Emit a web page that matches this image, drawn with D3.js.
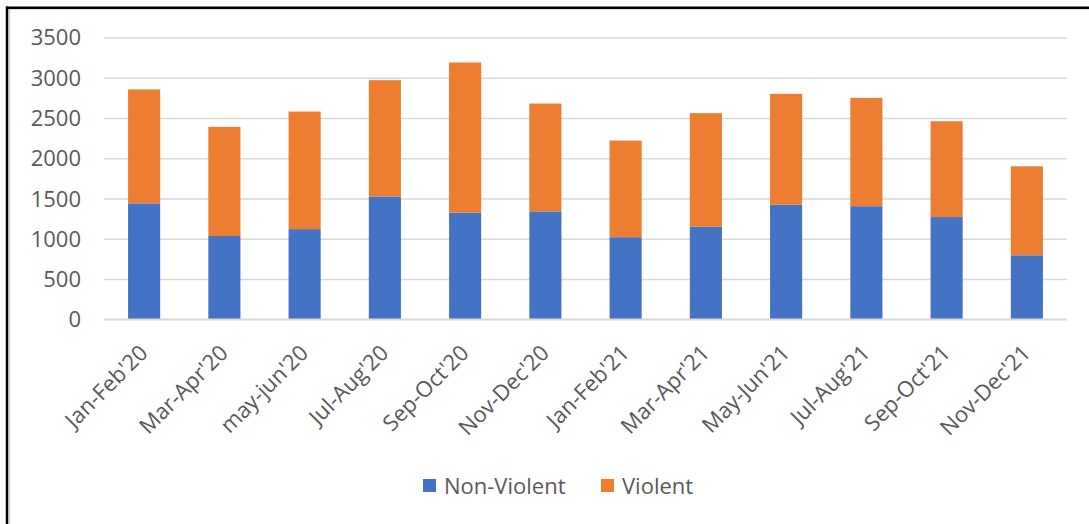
<!DOCTYPE html>
<html>
<head>
<meta charset="utf-8">
<script src="https://cdn.jsdelivr.net/npm/d3@7"></script>
<style>
  html, body { margin: 0; padding: 0; background: #ffffff; }
  svg { display: block; }
  text { font-family: "Open Sans", "Noto Sans", sans-serif; fill: #595959; }
</style>
</head>
<body>
<svg id="chart" width="1089" height="524"></svg>
<script>
// Two-month periods shown on the x axis
const periods = ["Jan-Feb'20", "Mar-Apr'20", "may-jun'20", "Jul-Aug'20", "Sep-Oct'20", "Nov-Dec'20",
                 "Jan-Feb'21", "Mar-Apr'21", "May-Jun'21", "Jul-Aug'21", "Sep-Oct'21", "Nov-Dec'21"];
// Incident counts per period
const nonViolent = [1440, 1035, 1120, 1525, 1325, 1340, 1020, 1150, 1425, 1405, 1270, 795];
const violent    = [1415, 1355, 1460, 1445, 1865, 1340, 1200, 1410, 1375, 1345, 1190, 1105];
const seriesNames = ["Non-Violent", "Violent"];
const seriesColors = ["#4472C4", "#ED7D31"];
const yTicks = [0, 500, 1000, 1500, 2000, 2500, 3000, 3500];

const svg = d3.select("#chart");

// Frame around the chart area
svg.append("line").attr("x1", 7).attr("x2", 1089).attr("y1", 9.5).attr("y2", 9.5)
  .attr("stroke", "#dddddd").attr("stroke-width", 1);
svg.append("line").attr("x1", 9.5).attr("x2", 9.5).attr("y1", 9).attr("y2", 524)
  .attr("stroke", "#dddddd").attr("stroke-width", 2);
svg.append("line").attr("x1", 6).attr("x2", 1089).attr("y1", 7.75).attr("y2", 7.75)
  .attr("stroke", "#000000").attr("stroke-width", 2.5);
svg.append("line").attr("x1", 7).attr("x2", 7).attr("y1", 6.5).attr("y2", 524)
  .attr("stroke", "#000000").attr("stroke-width", 2.5);

const plot = { left: 104, right: 1067, top: 37.5, bottom: 319.3 };

const x = d3.scaleBand().domain(periods).range([plot.left, plot.right]).paddingInner(0.6).paddingOuter(0.3);
const y = d3.scaleLinear().domain([0, 3500]).range([plot.bottom, plot.top]);

// Horizontal gridlines
const yAxis = d3.axisLeft(y).tickValues(yTicks).tickSize(-(plot.right - plot.left)).tickPadding(23).tickFormat(d3.format("d"));
const gy = svg.append("g").attr("transform", `translate(${plot.left},0)`).call(yAxis);
gy.select(".domain").remove();
gy.selectAll(".tick line").attr("stroke", "#d9d9d9").attr("stroke-width", 1.6);
gy.selectAll(".tick text").attr("fill", "#595959").style("font-size", "22px")
  .attr("dy", "0.34em").attr("fill", "#595959");

// Stacked bars
const rows = periods.map((p, i) => ({ period: p, "Non-Violent": nonViolent[i], "Violent": violent[i] }));
const stacked = d3.stack().keys(seriesNames)(rows);

svg.append("g").selectAll("g").data(stacked).join("g")
  .attr("fill", (d, i) => seriesColors[i])
  .selectAll("rect").data(d => d).join("rect")
  .attr("x", d => x(d.data.period))
  .attr("width", x.bandwidth())
  .attr("y", d => y(d[1]))
  .attr("height", d => y(d[0]) - y(d[1]));

// Category axis with slanted labels
const xAxis = d3.axisBottom(x).tickSize(0).tickPadding(0);
const gx = svg.append("g").attr("transform", `translate(0,${plot.bottom})`).call(xAxis);
gx.select(".domain").remove();
gx.selectAll(".tick text")
  .style("font-size", "22px")
  .attr("fill", "#595959")
  .attr("text-anchor", "end")
  .attr("dy", null)
  .attr("y", 0)
  .attr("transform", "translate(5,35) rotate(-45)");

// Redraw the zero line above the bars
svg.append("line").attr("x1", plot.left).attr("x2", plot.right)
  .attr("y1", y(0)).attr("y2", y(0)).attr("stroke", "#d9d9d9").attr("stroke-width", 1.6);

// Legend
const legend = svg.append("g");
const legendItems = [{ name: seriesNames[0], color: seriesColors[0], x: 423 },
                     { name: seriesNames[1], color: seriesColors[1], x: 601 }];
legendItems.forEach(item => {
  legend.append("rect").attr("x", item.x).attr("y", 479).attr("width", 13).attr("height", 13).attr("fill", item.color);
  legend.append("text").attr("x", item.x + 21).attr("y", 493.5).style("font-size", "22px").text(item.name);
});
</script>
</body>
</html>
